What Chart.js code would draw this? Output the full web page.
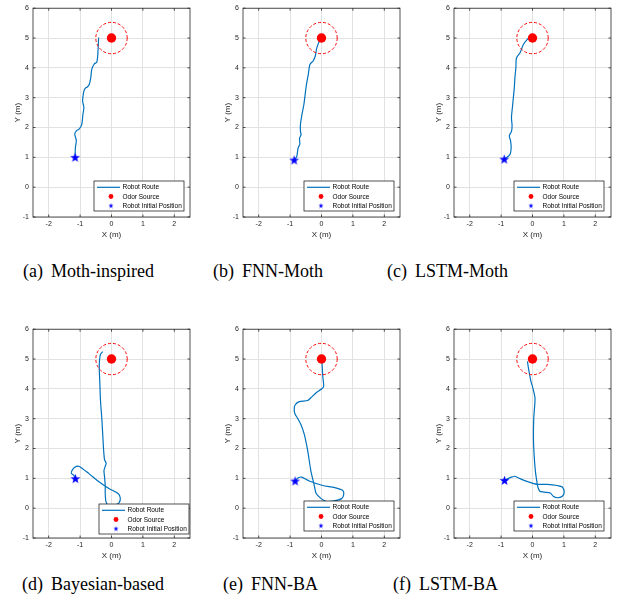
<!DOCTYPE html>
<html>
<head>
<meta charset="utf-8">
<script src="https://cdn.jsdelivr.net/npm/chart.js@4.4.1/dist/chart.umd.min.js"></script>
<style>
html, body { margin: 0; padding: 0; background: #fff; }
body { width: 619px; height: 606px; position: relative; overflow: hidden; }
canvas { position: absolute; }
.cap { position: absolute; font-family: "Liberation Serif", "Times New Roman", serif; font-size: 18px; line-height: 18px; color: #000; white-space: nowrap; }
.cap span { margin-left: 8px; }
</style>
</head>
<body>
<script>
// axis ticks
const xTicks = [-2, -1, 0, 1, 2];
const yTicks = [-1, 0, 1, 2, 3, 4, 5, 6];
const legendLabels = ['Robot Route', 'Odor Source', 'Robot Initial Position'];
const captionTags = ['(a)', '(b)', '(c)', '(d)', '(e)', '(f)'];
const captionNames = ['Moth-inspired', 'FNN-Moth', 'LSTM-Moth', 'Bayesian-based', 'FNN-BA', 'LSTM-BA'];

// odor source and its 0.5 m radius
const sourceX = 0;
const sourceY = 5;
const sourceRadius = 0.5;

// robot start positions, one per panel
const startX = [-1.16, -0.87, -0.90, -1.15, -0.84, -0.89];
const startY = [1.00, 0.91, 0.94, 0.99, 0.91, 0.93];

// robot routes
const mothX = [-1.16,-1.15,-1.12,-1.17,-1.12,-1.04,-0.95,-0.91,-0.88,-0.92,-0.89,-0.84,-0.77,-0.71,-0.66,-0.63,-0.55,-0.47,-0.44,-0.42,-0.41];
const mothY = [1.00,1.33,1.56,1.78,1.89,1.94,2.09,2.44,2.67,2.89,3.17,3.31,3.36,3.44,3.67,3.94,4.13,4.19,4.39,4.78,5.02];

const fnnMothX = [-0.87,-0.79,-0.76,-0.74,-0.69,-0.70,-0.65,-0.67,-0.67,-0.63,-0.56,-0.52,-0.48,-0.42,-0.37,-0.26,-0.20,-0.17,-0.15,-0.07,0.00];
const fnnMothY = [0.91,1.02,1.22,1.33,1.44,1.64,1.76,1.87,2.11,2.39,2.78,3.11,3.44,3.78,4.11,4.24,4.39,4.56,4.67,4.89,5.02];

const lstmMothX = [-0.90,-0.72,-0.68,-0.70,-0.74,-0.67,-0.65,-0.67,-0.64,-0.61,-0.58,-0.56,-0.53,-0.51,-0.40,-0.29,-0.18,-0.05];
const lstmMothY = [0.94,1.09,1.33,1.56,1.72,1.87,2.06,2.33,2.67,3.00,3.33,3.67,4.00,4.33,4.50,4.78,4.94,5.06];

const bayesX = [-1.15,-1.20,-1.28,-1.23,-1.12,-1.02,-0.71,-0.39,-0.07,0.21,0.28,0.24,0.08,-0.12,-0.18,-0.20,-0.20,-0.22,-0.24,-0.20,-0.17,-0.22,-0.25,-0.28,-0.31,-0.35,-0.37,-0.39,-0.38,-0.35,-0.28];
const bayesY = [0.99,1.10,1.17,1.31,1.40,1.40,1.15,0.88,0.65,0.49,0.34,0.18,0.10,0.11,0.24,0.49,0.76,1.04,1.26,1.40,1.51,1.62,1.93,2.48,3.03,3.59,4.14,4.70,4.97,5.16,5.25];

const fnnBaX = [-0.84,-0.74,-0.63,-0.39,0.04,0.42,0.67,0.71,0.64,0.37,0.15,-0.01,-0.17,-0.23,-0.34,-0.44,-0.55,-0.66,-0.77,-0.84,-0.87,-0.84,-0.71,-0.44,-0.34,-0.17,0.02,0.07,0.04,0.02,0.01];
const fnnBaY = [0.91,1.02,1.04,0.91,0.76,0.69,0.60,0.47,0.32,0.24,0.23,0.32,0.49,0.76,1.26,1.93,2.48,2.81,3.03,3.15,3.31,3.46,3.57,3.61,3.70,3.87,4.01,4.09,4.42,4.81,4.97];

const lstmBaX = [-0.89,-0.78,-0.67,-0.56,-0.40,-0.13,0.14,0.47,0.79,0.95,1.01,0.95,0.79,0.66,0.57,0.36,0.23,0.17,0.14,0.09,0.05,0.03,0.04,0.08,0.01,-0.05,-0.13,-0.16];
const lstmBaY = [0.93,0.99,1.04,1.07,0.99,0.88,0.80,0.80,0.76,0.71,0.54,0.40,0.35,0.40,0.51,0.54,0.57,0.71,0.88,1.26,1.82,2.37,3.03,3.68,4.03,4.25,4.70,4.92];

const routesX = [mothX, fnnMothX, lstmMothX, bayesX, fnnBaX, lstmBaX];
const routesY = [mothY, fnnMothY, lstmMothY, bayesY, fnnBaY, lstmBaY];

// page layout: canvas position, caption position, legend insets (right, bottom)
const layout = [
  { left: 0,   top: 0,   capLeft: 23,  capTop: 262, inset: [6, 6] },
  { left: 210, top: 0,   capLeft: 213, capTop: 262, inset: [6, 6] },
  { left: 421, top: 0,   capLeft: 387, capTop: 262, inset: [7, 6] },
  { left: 0,   top: 321, capLeft: 22,  capTop: 575, inset: [1, 4] },
  { left: 210, top: 321, capLeft: 223, capTop: 575, inset: [6, 7] },
  { left: 421, top: 321, capLeft: 393, capTop: 575, inset: [7, 7] }
];

const BLUE = '#0072BD';
const AXIS = '#262626';

function starImage(size, color) {
  const c = document.createElement('canvas');
  c.width = size; c.height = size;
  const g = c.getContext('2d');
  const cx = size / 2, cy = size / 2 + 0.4, R = size / 2 - 0.3, r = R * 0.4;
  g.beginPath();
  for (let i = 0; i < 10; i++) {
    const a = -Math.PI / 2 + i * Math.PI / 5;
    const rad = i % 2 ? r : R;
    g.lineTo(cx + rad * Math.cos(a), cy + rad * Math.sin(a));
  }
  g.closePath();
  g.fillStyle = color;
  g.fill();
  return c;
}
const bigStar = starImage(11, '#0000ff');
const smallStar = starImage(6, '#0000ff');

const extras = {
  id: 'extras',
  afterDatasetsDraw(chart) {
    const ctx = chart.ctx, xs = chart.scales.x, ys = chart.scales.y;
    const cx = xs.getPixelForValue(sourceX), cy = ys.getPixelForValue(sourceY);
    const r = xs.getPixelForValue(sourceX + sourceRadius) - cx;
    ctx.save();
    ctx.strokeStyle = '#ff0000';
    ctx.lineWidth = 1;
    ctx.setLineDash([3, 2]);
    ctx.beginPath();
    ctx.arc(cx, cy, r, 0, Math.PI * 2);
    ctx.stroke();
    ctx.restore();
  },
  afterDraw(chart, args, opts) {
    const ctx = chart.ctx;
    const { left, right, top, bottom } = chart.chartArea;
    ctx.save();
    // box and inward ticks
    ctx.strokeStyle = AXIS;
    ctx.lineWidth = 0.8;
    ctx.strokeRect(left, top, right - left, bottom - top);
    ctx.beginPath();
    xTicks.forEach(v => {
      const px = chart.scales.x.getPixelForValue(v);
      ctx.moveTo(px, bottom); ctx.lineTo(px, bottom - 2.5);
      ctx.moveTo(px, top); ctx.lineTo(px, top + 2.5);
    });
    yTicks.forEach(v => {
      const py = chart.scales.y.getPixelForValue(v);
      ctx.moveTo(left, py); ctx.lineTo(left + 2.5, py);
      ctx.moveTo(right, py); ctx.lineTo(right - 2.5, py);
    });
    ctx.stroke();

    // legend
    const w = 90, h = 30;
    const x0 = right - opts.inset[0] - w, y0 = bottom - opts.inset[1] - h;
    ctx.fillStyle = '#fff';
    ctx.fillRect(x0, y0, w, h);
    ctx.strokeStyle = AXIS;
    ctx.lineWidth = 0.8;
    ctx.strokeRect(x0, y0, w, h);
    const rows = [y0 + 6.3, y0 + 15.5, y0 + 24.5];
    ctx.strokeStyle = BLUE;
    ctx.lineWidth = 1.2;
    ctx.beginPath();
    ctx.moveTo(x0 + 3, rows[0]); ctx.lineTo(x0 + 26, rows[0]);
    ctx.stroke();
    ctx.fillStyle = '#ff0000';
    ctx.beginPath();
    ctx.arc(x0 + 17, rows[1], 2.4, 0, Math.PI * 2);
    ctx.fill();
    ctx.drawImage(smallStar, x0 + 17 - 3, rows[2] - 3);
    ctx.fillStyle = '#000';
    ctx.font = '6.5px "Liberation Sans", Arial, sans-serif';
    ctx.textBaseline = 'middle';
    legendLabels.forEach((t, i) => ctx.fillText(t, x0 + 28.5, rows[i] + 0.3));
    ctx.restore();
  }
};

const tickFont = { family: '"Liberation Sans", Arial, sans-serif', size: 7 };
const titleFont = { family: '"Liberation Sans", Arial, sans-serif', size: 8 };

layout.forEach((p, i) => {
  const cv = document.createElement('canvas');
  cv.width = 198; cv.height = 250;
  cv.style.left = p.left + 'px';
  cv.style.top = p.top + 'px';
  document.body.appendChild(cv);

  const cap = document.createElement('div');
  cap.className = 'cap';
  cap.style.left = p.capLeft + 'px';
  cap.style.top = p.capTop + 'px';
  cap.textContent = captionTags[i];
  const nm = document.createElement('span');
  nm.textContent = captionNames[i];
  cap.appendChild(nm);
  document.body.appendChild(cap);

  const route = routesX[i].map((x, k) => ({ x: x, y: routesY[i][k] }));

  new Chart(cv, {
    type: 'scatter',
    data: {
      datasets: [
        {
          label: legendLabels[0],
          data: route,
          showLine: true,
          borderColor: BLUE,
          borderWidth: 1.2,
          tension: 0.25,
          pointRadius: 0,
          order: 3
        },
        {
          label: legendLabels[1],
          data: [{ x: sourceX, y: sourceY }],
          pointRadius: 4.7,
          backgroundColor: '#ff0000',
          borderWidth: 0,
          order: 2
        },
        {
          label: legendLabels[2],
          data: [{ x: startX[i], y: startY[i] }],
          pointStyle: bigStar,
          order: 1
        }
      ]
    },
    options: {
      responsive: false,
      animation: false,
      layout: { padding: { left: 10, top: 6, right: 8, bottom: 10 } },
      plugins: {
        legend: { display: false },
        tooltip: { enabled: false },
        extras: { inset: p.inset }
      },
      scales: {
        x: {
          type: 'linear', min: -2.5, max: 2.5,
          afterBuildTicks: s => { s.ticks = xTicks.map(v => ({ value: v })); },
          afterFit: s => { s.height = 23; },
          grid: { color: '#e2e2e2', lineWidth: 1, drawTicks: false },
          border: { display: false },
          ticks: { font: tickFont, color: AXIS, padding: 3, maxRotation: 0, autoSkip: false },
          title: { display: true, text: 'X (m)', font: titleFont, color: AXIS, padding: { top: 0, bottom: 0 } }
        },
        y: {
          type: 'linear', min: -1, max: 6,
          afterBuildTicks: s => { s.ticks = yTicks.map(v => ({ value: v })); },
          afterFit: s => { s.width = 23; },
          grid: { color: '#e2e2e2', lineWidth: 1, drawTicks: false },
          border: { display: false },
          ticks: { font: tickFont, color: AXIS, padding: 4, autoSkip: false },
          title: { display: true, text: 'Y (m)', font: titleFont, color: AXIS, padding: { top: 3, bottom: 0 } }
        }
      }
    },
    plugins: [extras]
  });
});
</script>
</body>
</html>
